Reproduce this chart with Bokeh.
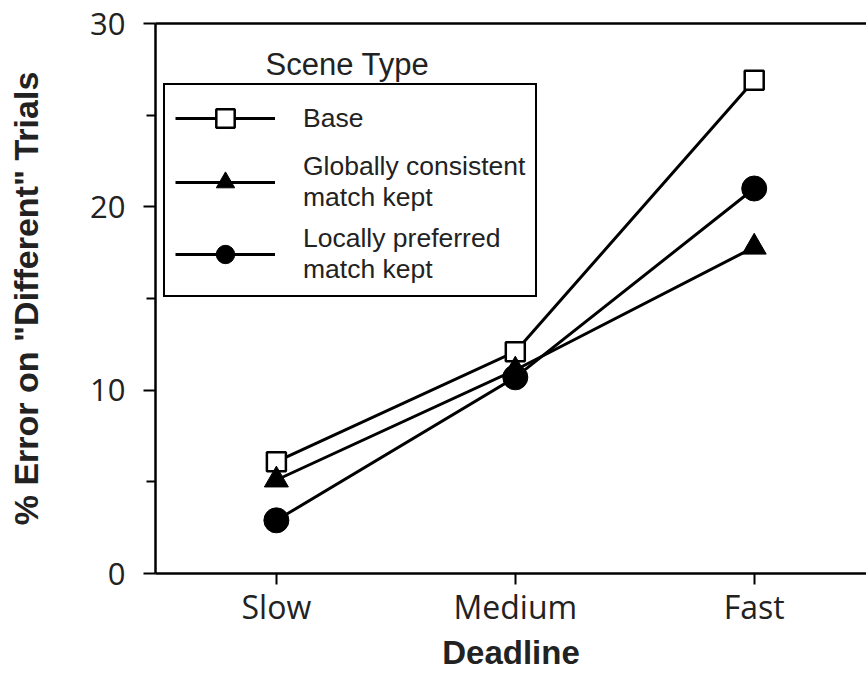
from bokeh.plotting import figure
from bokeh.models import FixedTicker, LinearAxis, Legend, LegendItem, Label, Range1d
from bokeh.embed import file_html
from bokeh.resources import INLINE

# ---- data ----
categories = ["Slow", "Medium", "Fast"]
x_pos = [0, 1, 2]
base = [6.1, 12.1, 26.9]
globally_consistent = [5.1, 11.1, 17.8]
locally_preferred = [2.9, 10.7, 21.0]
y_ticks = [0, 10, 20, 30]
y_minor_ticks = [5, 15, 25]

series_labels = ["Base", "Globally consistent\nmatch kept", "Locally preferred\nmatch kept"]
legend_title = "Scene Type"

p = figure(width=866, height=673,
           x_range=Range1d(-0.506, 2.47), y_range=Range1d(0, 30),
           output_backend="svg", toolbar_location=None,
           min_border_left=155, min_border_right=0,
           min_border_top=23, min_border_bottom=100)
p.outline_line_color = None
p.xgrid.grid_line_color = None
p.ygrid.grid_line_color = None
p.background_fill_color = "white"
p.border_fill_color = "white"

# x axis
p.xaxis.ticker = FixedTicker(ticks=x_pos)
p.xaxis.major_label_overrides = {x: c for x, c in zip(x_pos, categories)}
p.xaxis.axis_line_width = 2.5
p.xaxis.axis_line_color = "black"
p.xaxis.major_tick_line_width = 2
p.xaxis.major_tick_line_color = "black"
p.xaxis.major_tick_in = 0
p.xaxis.major_tick_out = 11
p.xaxis.minor_tick_line_color = None
p.xaxis.major_label_standoff = 0
p.xaxis.major_label_text_font = "Open Sans"
p.xaxis.major_label_text_font_size = "32px"
p.xaxis.major_label_text_color = "#222222"
p.xaxis.axis_label = "Deadline"
p.xaxis.axis_label_text_font = "Liberation Sans"
p.xaxis.axis_label_text_font_style = "bold"
p.xaxis.axis_label_text_font_size = "33px"
p.xaxis.axis_label_text_color = "#222222"
p.xaxis.axis_label_standoff = 3

# y axis
p.yaxis.ticker = FixedTicker(ticks=y_ticks, minor_ticks=y_minor_ticks)
p.yaxis.axis_line_width = 2.5
p.yaxis.axis_line_color = "black"
p.yaxis.major_tick_line_width = 2
p.yaxis.major_tick_line_color = "black"
p.yaxis.major_tick_in = 0
p.yaxis.major_tick_out = 12
p.yaxis.minor_tick_line_width = 2
p.yaxis.minor_tick_line_color = "black"
p.yaxis.minor_tick_in = 0
p.yaxis.minor_tick_out = 9
p.yaxis.major_label_standoff = 18
p.yaxis.major_label_text_font = "Open Sans"
p.yaxis.major_label_text_font_size = "31px"
p.yaxis.major_label_text_color = "#222222"
p.yaxis.axis_label = "% Error on \"Different\" Trials"
p.yaxis.axis_label_text_font = "Liberation Sans"
p.yaxis.axis_label_text_font_style = "bold"
p.yaxis.axis_label_text_font_size = "34px"
p.yaxis.axis_label_text_color = "#222222"
p.yaxis.axis_label_standoff = 42

# top frame line
top_axis = LinearAxis(ticker=FixedTicker(ticks=[]), axis_line_width=2.5,
                      axis_line_color="black",
                      major_tick_line_color=None, minor_tick_line_color=None,
                      major_label_text_font_size="0px")
p.add_layout(top_axis, "above")

# series
l1 = p.line(x_pos, base, line_color="black", line_width=3)
s1 = p.scatter(x_pos, base, marker="square", size=19, fill_color="white",
               line_color="black", line_width=2.5)
l2 = p.line(x_pos, globally_consistent, line_color="black", line_width=3)
s2 = p.scatter(x_pos, globally_consistent, marker="triangle", size=24,
               fill_color="black", line_color="black", line_width=1)
l3 = p.line(x_pos, locally_preferred, line_color="black", line_width=3)
s3 = p.scatter(x_pos, locally_preferred, marker="circle", size=25,
               fill_color="black", line_color="black", line_width=1)

legend = Legend(items=[
    LegendItem(label=series_labels[0], renderers=[l1, s1]),
    LegendItem(label=series_labels[1], renderers=[l2, s2]),
    LegendItem(label=series_labels[2], renderers=[l3, s3]),
], location=(8, 276))
legend.border_line_color = "black"
legend.border_line_alpha = 1.0
legend.border_line_width = 2.5
legend.padding = 10
legend.spacing = 10
legend.glyph_width = 100
legend.glyph_height = 46
legend.label_standoff = 28
legend.label_text_font = "Liberation Sans"
legend.label_text_font_size = "26.5px"
legend.label_text_line_height = 1.08
legend.label_text_color = "#222222"
legend.margin = 0
legend.background_fill_alpha = 1
p.add_layout(legend)

title_label = Label(x=0.297, y=27.78, text=legend_title, text_align="center",
                    text_baseline="middle", text_font="Liberation Sans",
                    text_font_size="31px", text_color="#222222")
p.add_layout(title_label)

open("out.html", "w").write(file_html(p, INLINE))
